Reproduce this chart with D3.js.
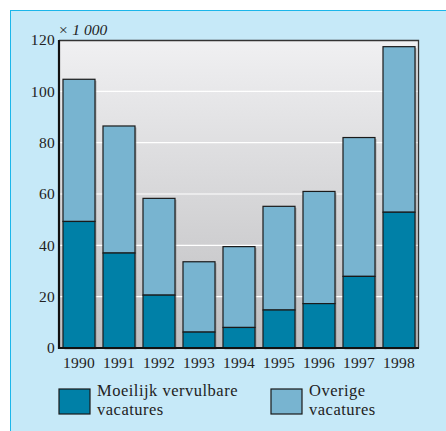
<!DOCTYPE html>
<meta charset="utf-8">
<style>
body { margin: 0; background: #fff; }
text { font-family: "Liberation Serif", "DejaVu Serif", serif; fill: #222; }
</style>
<body>
<svg width="446" height="431"></svg>
<script src="https://d3js.org/d3.v7.min.js"></script>
<script>
// jaren en waarden (x 1000)
var years = ["1990", "1991", "1992", "1993", "1994", "1995", "1996", "1997", "1998"];
var moeilijk = [49.3, 37, 20.6, 6.2, 8, 14.8, 17.3, 27.9, 52.9];
var totaal = [104.7, 86.5, 58.3, 33.6, 39.5, 55.2, 61, 82, 117.4];
var yTicks = [0, 20, 40, 60, 80, 100, 120];
var legendLabels = [["Moeilijk vervulbare", "vacatures"], ["Overige", "vacatures"]];

var darkCol = "#0080a7", lightCol = "#78b4d0";

var svg = d3.select("svg");
var margin = {top: 40, left: 59, right: 27, bottom: 83};
var width = 446 - margin.left - margin.right,
    height = 431 - margin.top - margin.bottom;

// achtergrond paneel
svg.append("rect").attr("x", 10.5).attr("y", 10.5).attr("width", 460).attr("height", 430)
  .attr("fill", "#c6e9f8").attr("stroke", "#1cb6ea").attr("stroke-width", 1);

var defs = svg.append("defs");
var grad = defs.append("linearGradient").attr("id", "bg").attr("x1", 0).attr("y1", 0).attr("x2", 0).attr("y2", 1);
grad.append("stop").attr("offset", 0).attr("stop-color", "#f0f0f2");
grad.append("stop").attr("offset", 1).attr("stop-color", "#bebec0");

var x = d3.scaleBand().domain(years).range([0, width]).paddingInner(0.2).paddingOuter(0.1);
var y = d3.scaleLinear().domain([0, 120]).range([height, 0]);

var g = svg.append("g").attr("transform", "translate(" + margin.left + "," + margin.top + ")");

g.append("rect").attr("width", width).attr("height", height).attr("fill", "url(#bg)");

g.selectAll(".grid").data(yTicks.slice(1, -1)).enter().append("line")
  .attr("x1", 0).attr("x2", width)
  .attr("y1", function(d) { return y(d); }).attr("y2", function(d) { return y(d); })
  .attr("stroke", "#fff").attr("stroke-width", 1.2);

// rand bovenaan / rechts
g.append("path").attr("d", "M0,0.5H" + (width - 0.5) + "V" + height)
  .attr("fill", "none").attr("stroke", "#333").attr("stroke-width", 1.3);

var bars = g.selectAll(".bar").data(years).enter().append("g");

// schaduw
bars.append("rect")
  .attr("x", function(d) { return x(d) + 1.5; })
  .attr("y", function(d, i) { return y(totaal[i]) + 1.5; })
  .attr("width", x.bandwidth())
  .attr("height", function(d, i) { return height - y(totaal[i]); })
  .attr("fill", "#777").attr("opacity", 0.5);

bars.append("rect")
  .attr("x", function(d) { return x(d); })
  .attr("y", function(d, i) { return y(totaal[i]); })
  .attr("width", x.bandwidth())
  .attr("height", function(d, i) { return y(moeilijk[i]) - y(totaal[i]); })
  .attr("fill", lightCol).attr("stroke", "#1a1a1a").attr("stroke-width", 1.2);

bars.append("rect")
  .attr("x", function(d) { return x(d); })
  .attr("y", function(d, i) { return y(moeilijk[i]); })
  .attr("width", x.bandwidth())
  .attr("height", function(d, i) { return height - y(moeilijk[i]); })
  .attr("fill", darkCol).attr("stroke", "#1a1a1a").attr("stroke-width", 1.2);

// assen
var yAxis = g.append("g").call(d3.axisLeft(y).tickValues(yTicks).tickSize(0).tickPadding(4));
yAxis.select(".domain").remove();
yAxis.selectAll("text").style("font-size", "15.5px").style("letter-spacing", "0.3px")
  .style("font-family", "'Liberation Serif', serif").attr("fill", "#222");

var xAxis = g.append("g").attr("transform", "translate(0," + height + ")")
  .call(d3.axisBottom(x).tickSize(0).tickPadding(9));
xAxis.select(".domain").remove();
xAxis.selectAll("text").style("font-size", "15.5px").style("letter-spacing", "0.3px")
  .style("font-family", "'Liberation Serif', serif").attr("fill", "#222");

g.append("path").attr("d", "M0,0V" + height + "H" + width)
  .attr("fill", "none").attr("stroke", "#111").attr("stroke-width", 2.2);

g.append("text").attr("x", -1).attr("y", -5)
  .style("font-style", "italic").style("font-size", "15.5px").text("\u00d7 1 000");

// legenda
var legend = svg.append("g").attr("transform", "translate(59,389)");
var lg = legend.selectAll("g").data(legendLabels).enter().append("g")
  .attr("transform", function(d, i) { return "translate(" + (i * 212) + ",0)"; });
lg.append("rect").attr("width", 31).attr("height", 25)
  .attr("fill", function(d, i) { return i === 0 ? darkCol : lightCol; })
  .attr("stroke", "#1a1a1a").attr("stroke-width", 1.2);
lg.append("text").attr("x", 38).attr("y", 6.5).style("font-size", "16.5px").style("letter-spacing", "0.5px")
  .selectAll("tspan").data(function(d) { return d; }).enter().append("tspan")
  .attr("x", 38).attr("dy", function(d, i) { return i === 0 ? 0 : 19; })
  .text(function(d) { return d; });
</script>
</body>
